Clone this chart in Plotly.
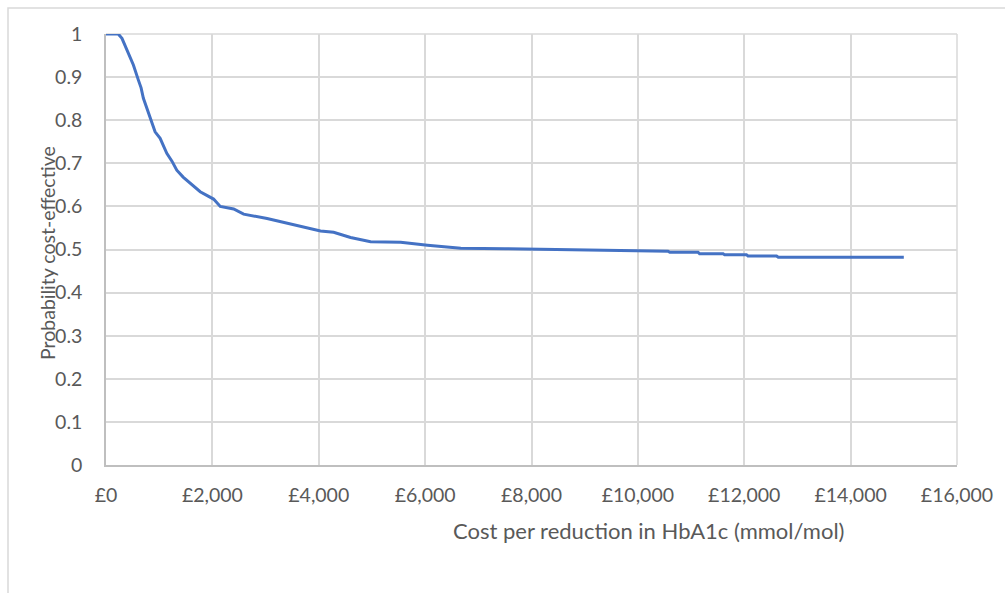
import plotly.graph_objects as go

# Willingness-to-pay thresholds (£ per mmol/mol reduction in HbA1c)
cost_threshold = [0, 230, 300, 358, 430, 515, 609, 660, 703, 760, 829, 923, 1018, 1080,
                  1143, 1240, 1331, 1450, 1583, 1771, 2022, 2148, 2400, 2588, 3029, 3656,
                  4033, 4280, 4598, 4975, 5540, 6044, 6671, 7500, 8493, 9310, 10567, 10600,
                  11131, 11160, 11603, 11630, 12041, 12070, 12607, 12640, 15000]
# Probability cost-effective
prob_ce = [1.0, 1.0, 0.99, 0.974, 0.955, 0.928, 0.893, 0.875, 0.851, 0.83, 0.804, 0.773,
           0.758, 0.74, 0.723, 0.705, 0.684, 0.668, 0.654, 0.634, 0.617, 0.600, 0.594,
           0.582, 0.572, 0.555, 0.543, 0.540, 0.528, 0.518, 0.517, 0.510, 0.503, 0.502,
           0.500, 0.497, 0.496, 0.4935, 0.4935, 0.490, 0.490, 0.488, 0.488, 0.485, 0.485,
           0.482, 0.482]

x_ticks = [0, 2000, 4000, 6000, 8000, 10000, 12000, 14000, 16000]
x_tick_labels = ["£0", "£2,000", "£4,000", "£6,000", "£8,000", "£10,000", "£12,000",
                 "£14,000", "£16,000"]
y_ticks = [0, 0.1, 0.2, 0.3, 0.4, 0.5, 0.6, 0.7, 0.8, 0.9, 1]
y_tick_labels = ["0", "0.1", "0.2", "0.3", "0.4", "0.5", "0.6", "0.7", "0.8", "0.9", "1"]

W, H = 1005, 593
L, R, T, B = 106, 48, 34, 128
pw, ph = W - L - R, H - T - B

def px_x(p):
    return (p - L) / pw

def px_y(p):
    return (H - B - p) / ph

FONT = "Lato, 'Open Sans', sans-serif"
TXT = "#595959"
GRID = "#d9d9d9"

fig = go.Figure()
fig.add_trace(go.Scatter(x=cost_threshold, y=prob_ce, mode="lines",
                         line=dict(color="#4472C4", width=3), hoverinfo="skip",
                         showlegend=False))

fig.update_layout(
    width=W, height=H,
    margin=dict(l=L, r=R, t=T, b=B),
    paper_bgcolor="white", plot_bgcolor="white",
    font=dict(family=FONT, color=TXT, size=19),
    xaxis=dict(range=[0, 16000], tickvals=x_ticks, ticktext=x_tick_labels,
               showgrid=True, gridcolor=GRID, gridwidth=1.5,
               showline=True, linecolor="#bfbfbf", linewidth=1.5,
               zeroline=False, ticks="", ticklabelstandoff=12,
               tickfont=dict(family=FONT, color=TXT, size=19.5), fixedrange=True),
    yaxis=dict(range=[0, 1], tickvals=y_ticks, ticktext=y_tick_labels,
               showgrid=True, gridcolor=GRID, gridwidth=1.5,
               showline=True, linecolor="#bfbfbf", linewidth=1.5,
               zeroline=False, ticks="", ticklabelstandoff=18,
               tickfont=dict(family=FONT, color=TXT, size=19.5), fixedrange=True),
    shapes=[
        dict(type="rect", xref="paper", yref="paper",
             x0=px_x(8), x1=px_x(1012), y0=px_y(600), y1=px_y(8),
             line=dict(color=GRID, width=1.5), fillcolor="rgba(0,0,0,0)", layer="below"),
        dict(type="line", xref="paper", yref="paper", x0=0, x1=1, y0=1, y1=1,
             line=dict(color=GRID, width=1.5), layer="below"),
        dict(type="line", xref="paper", yref="paper", x0=1, x1=1, y0=0, y1=1,
             line=dict(color=GRID, width=1.5), layer="below"),
    ],
    annotations=[
        dict(text="Cost per reduction in HbA1c (mmol/mol)", xref="paper", yref="paper",
             x=px_x(648), y=px_y(530), xanchor="center", yanchor="middle",
             showarrow=False, font=dict(family=FONT, color=TXT, size=22)),
        dict(text="Probability cost-effective", xref="paper", yref="paper",
             x=px_x(48), y=px_y(253), xanchor="center", yanchor="middle",
             textangle=-90, showarrow=False, font=dict(family=FONT, color=TXT, size=19.5)),
    ],
)

fig.write_html("out.html")
